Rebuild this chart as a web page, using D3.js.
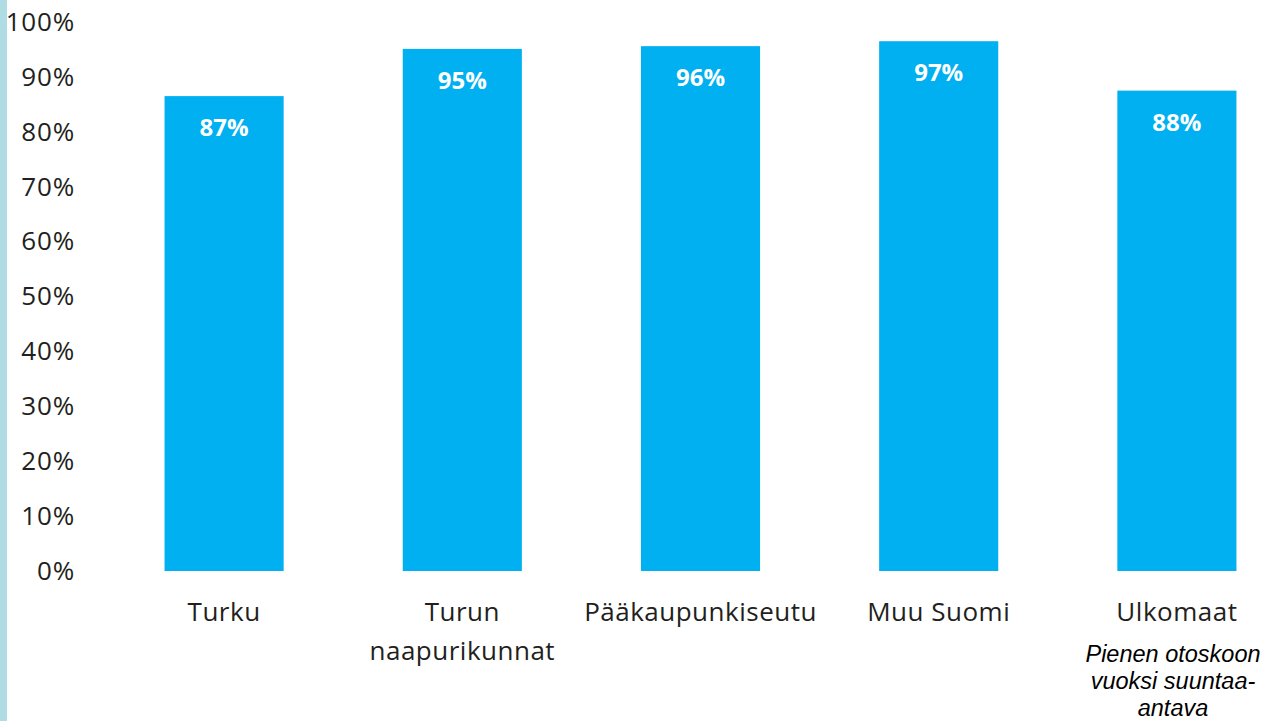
<!DOCTYPE html>
<html>
<head>
<meta charset="utf-8">
<script src="https://cdn.jsdelivr.net/npm/d3@7"></script>
<style>
  body { margin: 0; background: #fff; }
  svg { display: block; }
</style>
</head>
<body>
<svg></svg>
<script>
var width = 1264;
var height = 721;

// data
var categories = ["Turku", "Turun naapurikunnat", "Pääkaupunkiseutu", "Muu Suomi", "Ulkomaat"];
var labelLines = [["Turku"], ["Turun", "naapurikunnat"], ["Pääkaupunkiseutu"], ["Muu Suomi"], ["Ulkomaat"]];
var values = [86.5, 95.1, 95.6, 96.5, 87.5];
var yTicks = [0, 10, 20, 30, 40, 50, 60, 70, 80, 90, 100];
var noteLines = ["Pienen otoskoon", "vuoksi suuntaa-", "antava"];

var svg = d3.select("svg")
    .attr("width", width)
    .attr("height", height);

// light strip on the left edge
svg.append("rect")
    .attr("x", 0).attr("y", 0)
    .attr("width", 7).attr("height", height)
    .style("fill", "#b0dce3");

var x = d3.scaleBand()
    .domain(categories)
    .range([105, 1296])
    .paddingInner(0.5)
    .paddingOuter(0.25);

var y = d3.scaleLinear()
    .domain([0, 100])
    .range([571, 22]);

var fmt = function(v) { return v.toFixed(0) + "%"; };

// y axis labels
var yAxis = d3.axisLeft(y)
    .tickValues(yTicks)
    .tickSize(0)
    .tickPadding(0)
    .tickFormat(function(d) { return d + "%"; });

var ga = svg.append("g")
    .attr("transform", "translate(75,0)")
    .call(yAxis);
ga.select(".domain").remove();
ga.selectAll("text")
    .style("font-family", "'Open Sans', sans-serif")
    .style("font-size", "26px")
    .style("letter-spacing", "0.8px")
    .style("fill", "#231f20");

// bars
svg.selectAll(".bar")
    .data(values)
    .enter().append("rect")
    .attr("class", "bar")
    .attr("x", function(d, i) { return x(categories[i]); })
    .attr("y", function(d) { return y(d); })
    .attr("width", x.bandwidth())
    .attr("height", function(d) { return y(0) - y(d); })
    .style("fill", "#00b0f0");

// value labels
svg.selectAll(".val")
    .data(values)
    .enter().append("text")
    .attr("class", "val")
    .attr("x", function(d, i) { return x(categories[i]) + x.bandwidth() / 2; })
    .attr("y", function(d) { return y(d) + 40; })
    .attr("text-anchor", "middle")
    .style("font-family", "'Open Sans', sans-serif")
    .style("font-weight", "bold")
    .style("font-size", "24px")
    .style("fill", "#fff")
    .text(fmt);

// category labels
var cl = svg.selectAll(".cat")
    .data(labelLines)
    .enter().append("text")
    .attr("class", "cat")
    .attr("text-anchor", "middle")
    .attr("transform", function(d, i) {
      return "translate(" + (x(categories[i]) + x.bandwidth() / 2) + ",621)";
    })
    .style("font-family", "'Open Sans', sans-serif")
    .style("font-size", "26px")
    .style("letter-spacing", "0.5px")
    .style("fill", "#231f20");
cl.selectAll("tspan")
    .data(function(d) { return d; })
    .enter().append("tspan")
    .attr("x", 0)
    .attr("dy", function(d, i) { return i === 0 ? 0 : 39; })
    .text(function(d) { return d; });

// note under Ulkomaat
var note = svg.append("text")
    .attr("text-anchor", "middle")
    .attr("transform", "translate(1173,662)")
    .style("font-family", "'Liberation Sans', Arial, sans-serif")
    .style("font-style", "italic")
    .style("font-size", "23.5px")
    .style("fill", "#000");
note.selectAll("tspan")
    .data(noteLines)
    .enter().append("tspan")
    .attr("x", 0)
    .attr("dy", function(d, i) { return i === 0 ? 0 : 27; })
    .text(function(d) { return d; });
</script>
</body>
</html>
